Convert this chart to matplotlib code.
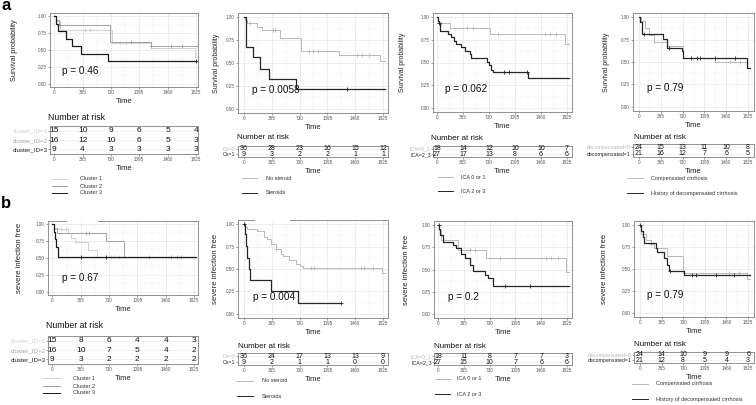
import matplotlib.pyplot as plt
from matplotlib.lines import Line2D
from matplotlib.patches import Rectangle
import numpy as np

plt.rcParams['font.family'] = ['Liberation Sans', 'DejaVu Sans']

####################################################################################################
# data (step times in days, survival after each step, censor times)
####################################################################################################
risk_times = [0, 365, 730, 1095, 1460, 1825]

# a1 - clusters, survival
a1_c1_t = [20, 80, 745, 1250, 1810]
a1_c1_s = [0.93, 0.80, 0.60, 0.53, 0.40]
a1_c1_cens = [395, 460, 845, 930]
a1_c2_t = [25, 55, 720, 1250]
a1_c2_s = [0.94, 0.87, 0.62, 0.56]
a1_c2_cens = [73, 995, 1250, 1500, 1640]
a1_c3_t = [20, 43, 146, 231, 342, 693]
a1_c3_s = [0.889, 0.778, 0.667, 0.556, 0.444, 0.333]
a1_c3_cens = [1825]

# a2 - steroids, survival
a2_g0_t = [15, 40, 167, 232, 474, 750, 1241, 1790]
a2_g0_s = [0.97, 0.94, 0.89, 0.86, 0.77, 0.63, 0.59, 0.52]
a2_g0_cens = [80, 386, 408, 847, 912, 978, 1483, 1549, 1636]
a2_g1_t = [20, 30, 123, 210, 330, 680]
a2_g1_s = [0.78, 0.67, 0.56, 0.44, 0.33, 0.22]
a2_g1_cens = [1350]

# a3 - ICA, survival
a3_g0_t = [14, 178, 740, 1800]
a3_g0_s = [0.94, 0.88, 0.81, 0.70]
a3_g0_cens = [61, 421, 505, 856, 1512, 1582, 1675]
a3_g1_t = [14, 28, 47, 154, 201, 234, 262, 342, 388, 459, 480, 702, 725, 763, 786, 1278]
a3_g1_s = [0.96, 0.93, 0.85, 0.81, 0.78, 0.74, 0.70, 0.67, 0.63, 0.59, 0.55, 0.51, 0.47, 0.42, 0.39, 0.33]
a3_g1_cens = [30, 935, 1010, 1265]

# a4 - decompensation, survival
a4_g0_t = [40, 100, 160, 250, 470, 735, 1270, 1800]
a4_g0_s = [0.96, 0.88, 0.80, 0.72, 0.68, 0.55, 0.50, 0.43]
a4_g0_cens = [1519, 1686]
a4_g1_t = [15, 45, 400, 470, 720, 740, 1800]
a4_g1_s = [0.95, 0.81, 0.76, 0.66, 0.62, 0.55, 0.43]
a4_g1_cens = [83, 506, 879, 963, 1018, 1269, 1602]

# b1 - clusters, severe infection
b1_c1_t = [15, 200, 240, 290, 460, 570]
b1_c1_s = [0.93, 0.87, 0.80, 0.73, 0.62, 0.52]
b1_c1_cens = [105, 170, 750, 800, 860]
b1_c2_t = [20, 60, 690, 920]
b1_c2_s = [0.94, 0.87, 0.75, 0.52]
b1_c2_cens = [430, 470, 1250, 1530, 1600, 1660]
b1_c3_t = [15, 30, 45, 75]
b1_c3_s = [0.889, 0.778, 0.667, 0.52]
b1_c3_cens = [370, 690]

# b2 - steroids, severe infection
b2_g0_t = [13, 36, 170, 260, 305, 349, 416, 484, 506, 596, 685, 730, 775, 1815]
b2_g0_s = [0.97, 0.94, 0.92, 0.86, 0.83, 0.78, 0.72, 0.67, 0.64, 0.60, 0.56, 0.53, 0.51, 0.46]
b2_g0_cens = [416, 880, 925, 1540, 1580, 1690]
b2_g1_t = [15, 30, 45, 60, 80, 350, 707]
b2_g1_s = [0.89, 0.76, 0.62, 0.50, 0.38, 0.25, 0.125]
b2_g1_cens = [5, 1276]

# b3 - ICA, severe infection
b3_g0_t = [14, 47, 283, 683, 1810]
b3_g0_s = [0.94, 0.83, 0.72, 0.63, 0.47]
b3_g0_cens = [447, 518, 871, 1531, 1592, 1696]
b3_g1_t = [14, 33, 66, 212, 259, 330, 386, 447, 494, 660, 706, 777]
b3_g1_s = [0.96, 0.89, 0.81, 0.78, 0.74, 0.67, 0.63, 0.55, 0.48, 0.44, 0.40, 0.32]
b3_g1_cens = [10, 942, 1295]

# b4 - decompensation, severe infection
b4_g0_t = [20, 100, 184, 240, 460, 720, 1805]
b4_g0_s = [0.90, 0.83, 0.78, 0.74, 0.65, 0.45, 0.39]
b4_g0_cens = [190, 1500, 1670]
b4_g1_t = [10, 45, 72, 267, 295, 407, 460, 490, 742]
b4_g1_s = [0.93, 0.86, 0.80, 0.74, 0.69, 0.62, 0.55, 0.48, 0.43]
b4_g1_cens = [5, 510, 885, 952, 1278, 1586]

# last follow-up of each curve
end_default = 1850
a1_c3_end = 1825
b2_g1_end = 1276

# numbers at risk
a1_risk = [[15, 10, 9, 6, 5, 4], [16, 12, 10, 6, 5, 3], [9, 4, 3, 3, 3, 3]]
a2_risk = [[36, 28, 23, 16, 15, 12], [9, 3, 2, 2, 1, 1]]
a3_risk = [[18, 14, 12, 10, 10, 7], [27, 17, 13, 8, 6, 6]]
a4_risk = [[24, 15, 13, 11, 10, 8], [21, 16, 12, 7, 6, 5]]
b1_risk = [[15, 8, 6, 4, 4, 3], [16, 10, 7, 5, 4, 2], [9, 3, 2, 2, 2, 2]]
b2_risk = [[36, 24, 17, 13, 13, 9], [9, 2, 1, 1, 0, 0]]
b3_risk = [[18, 11, 8, 7, 7, 3], [27, 15, 10, 7, 6, 6]]
b4_risk = [[24, 14, 10, 9, 9, 6], [21, 12, 8, 5, 4, 3]]

cluster_rows = ['cluster_ID=1', 'cluster_ID=2', 'cluster_ID=3']
steroid_rows = ['Cs=0', 'Cs=1']
ica_rows = ['ICA=0_1', 'ICA=2_3']
decomp_rows = ['decompensated=0', 'decompensated=1']

cluster_legend = ['Cluster 1', 'Cluster 2', 'Cluster 3']
steroid_legend = ['No steroid', 'Steroids']
ica_legend = ['ICA 0 or 1', 'ICA 2 or 3']
decomp_legend = ['Compensated cirrhosis', 'History of decompensated cirrhosis']

pvals = ['p = 0.46', 'p = 0.0058', 'p = 0.062', 'p = 0.79',
         'p = 0.67', 'p = 0.004', 'p = 0.2', 'p = 0.79']

####################################################################################################
# figure and helpers (all boxes in pixels from the top-left corner)
####################################################################################################
W, H = 756, 405
fig = plt.figure(figsize=(W / 100, H / 100), dpi=100)

three_cols = ['#d0d0d0', '#a3a3a3', '#1a1a1a']
two_cols = ['#b8b8b8', '#262626']
grid_major = '#e6e6e6'
grid_minor = '#f3f3f3'
frame_col = '#808080'
tick_col = '#555555'


def px_axes(box):
    x0, y0, x1, y1 = box
    return fig.add_axes([x0 / W, 1 - y1 / H, (x1 - x0) / W, (y1 - y0) / H])


def fig_text(x, y, s, **kw):
    fig.text(x / W, 1 - y / H, s, **kw)


def style_frame(ax):
    for sp in ax.spines.values():
        sp.set_color(frame_col)
        sp.set_linewidth(0.6)
    ax.tick_params(labelsize=3.3, colors=tick_col, length=1.5, width=0.4, pad=1)


def km_plot(box, curves, xlim, ylabel, ylab_x, ylab_fs, pval, pxy):
    ax = px_axes(box)
    for t, s, cens, end, col, lw in curves:
        tt = [0] + t + [end]
        ss = [1.0] + s + [s[-1]]
        ax.step(tt, ss, where='post', color=col, lw=lw)
        idx = np.searchsorted(t, cens, side='right')
        cy = np.r_[1.0, s][idx]
        ax.plot(cens, cy, '+', color=col, ms=3.5, mew=0.6)
    ax.set_xlim(*xlim)
    ax.set_ylim(-0.045, 1.045)
    ax.set_xticks(risk_times)
    ax.set_xticks([182.5, 547.5, 912.5, 1277.5, 1642.5], minor=True)
    ax.set_yticks([0, 0.25, 0.5, 0.75, 1.0])
    ax.set_yticklabels(['0.00', '0.25', '0.50', '0.75', '1.00'])
    ax.set_yticks([0.125, 0.375, 0.625, 0.875], minor=True)
    ax.grid(which='major', color=grid_major, lw=0.5)
    ax.grid(which='minor', color=grid_minor, lw=0.35)
    ax.tick_params(which='minor', length=0)
    ax.set_axisbelow(True)
    style_frame(ax)
    ax.set_xlabel('Time', fontsize=5.5, labelpad=1.5, color='#222222')
    fig_text(ylab_x, (box[1] + box[3]) / 2, ylabel, rotation=90, ha='center', va='center',
             fontsize=ylab_fs, color='#222222')
    fig_text(pxy[0], pxy[1], pval, ha='left', va='center', fontsize=7.2, color='#111111')
    return ax


def risk_table(box, rows, names, cols, xlim, title_xy, num_fs, name_fs, title_fs):
    ax = px_axes(box)
    n = len(rows)
    for i, r in enumerate(rows):
        for x, v in zip(risk_times, r):
            ax.text(x, i, str(v), ha='center', va='center', fontsize=num_fs, color='#111111')
    ax.set_xlim(*xlim)
    ax.set_ylim(n - 0.5, -0.5)
    ax.set_xticks(risk_times)
    ax.set_yticks(range(n))
    ax.set_yticklabels(names)
    ax.grid(axis='y', color=grid_major, lw=0.4)
    style_frame(ax)
    ax.tick_params(axis='y', labelsize=name_fs, pad=0.5, length=1.2)
    for lab, c in zip(ax.get_yticklabels(), cols):
        lab.set_color(c)
    ax.set_xlabel('Time', fontsize=5.5, labelpad=1.5, color='#222222')
    fig_text(title_xy[0], title_xy[1], 'Number at risk', ha='left', va='center',
             fontsize=title_fs, color='#111111')
    return ax


def legend_block(x0, x1, ys, xt, labels, cols):
    for y, lab, c in zip(ys, labels, cols):
        fig.add_artist(Line2D([x0 / W, x1 / W], [1 - y / H, 1 - y / H], color=c, lw=0.7))
        fig_text(xt, y, lab, ha='left', va='center', fontsize=4, color='#333333')


####################################################################################################
# layout per panel
####################################################################################################
E = end_default
panels = [
    dict(box=(50, 13, 198, 87), xlim=(-55, 1852), ylab='Survival probability', ylx=14, ylfs=5.3,
         pxy=(62, 71), tbox=(50, 126, 198, 154), txy=(48, 118), leg=(52, 67, [179, 186, 193], 80),
         curves=[(a1_c1_t, a1_c1_s, a1_c1_cens, E, three_cols[0], 0.7),
                 (a1_c2_t, a1_c2_s, a1_c2_cens, E, three_cols[1], 0.7),
                 (a1_c3_t, a1_c3_s, a1_c3_cens, a1_c3_end, three_cols[2], 0.9)],
         risk=a1_risk, names=cluster_rows, legend=cluster_legend, cols=three_cols, big=True),
    dict(box=(238, 13, 388, 113), xlim=(-79, 1891), ylab='Survival probability', ylx=217, ylfs=5,
         pxy=(252, 90), tbox=(238, 146, 388, 157), txy=(237, 137), leg=(242, 257, [178, 193], 266),
         curves=[(a2_g0_t, a2_g0_s, a2_g0_cens, E, two_cols[0], 0.7),
                 (a2_g1_t, a2_g1_s, a2_g1_cens, E, two_cols[1], 0.9)],
         risk=a2_risk, names=steroid_rows, legend=steroid_legend, cols=two_cols, big=False),
    dict(box=(433, 13, 572, 112), xlim=(-56, 1895), ylab='Survival probability', ylx=403, ylfs=5,
         pxy=(445, 89), tbox=(433, 146, 572, 157), txy=(431, 138), leg=(438, 453, [177, 191], 461),
         curves=[(a3_g0_t, a3_g0_s, a3_g0_cens, E, two_cols[0], 0.7),
                 (a3_g1_t, a3_g1_s, a3_g1_cens, E, two_cols[1], 0.9)],
         risk=a3_risk, names=ica_rows, legend=ica_legend, cols=two_cols, big=False),
    dict(box=(633, 13, 754, 111), xlim=(-100, 1925), ylab='Survival probability', ylx=607, ylfs=5,
         pxy=(647, 88), tbox=(633, 144, 754, 157), txy=(634, 137), leg=(627, 643, [178, 193], 651),
         curves=[(a4_g0_t, a4_g0_s, a4_g0_cens, E, two_cols[0], 0.7),
                 (a4_g1_t, a4_g1_s, a4_g1_cens, E, two_cols[1], 0.9)],
         risk=a4_risk, names=decomp_rows, legend=decomp_legend, cols=two_cols, big=False),
    dict(box=(48, 221, 198, 295), xlim=(-57, 1877), ylab='severe infection free', ylx=20, ylfs=5.6,
         pxy=(62, 278), tbox=(48, 336, 198, 364), txy=(46, 325), leg=(43, 60, [378, 386, 393], 73),
         curves=[(b1_c1_t, b1_c1_s, b1_c1_cens, E, three_cols[0], 0.7),
                 (b1_c2_t, b1_c2_s, b1_c2_cens, E, three_cols[1], 0.7),
                 (b1_c3_t, b1_c3_s, b1_c3_cens, E, three_cols[2], 0.9)],
         risk=b1_risk, names=cluster_rows, legend=cluster_legend, cols=three_cols, big=True),
    dict(box=(238, 220, 388, 318), xlim=(-79, 1891), ylab='severe infection free', ylx=215, ylfs=5.6,
         pxy=(253, 297), tbox=(238, 353, 388, 365), txy=(238, 346), leg=(237, 253, [381, 396], 262),
         curves=[(b2_g0_t, b2_g0_s, b2_g0_cens, E, two_cols[0], 0.7),
                 (b2_g1_t, b2_g1_s, b2_g1_cens, b2_g1_end, two_cols[1], 0.9)],
         risk=b2_risk, names=steroid_rows, legend=steroid_legend, cols=two_cols, big=False),
    dict(box=(434, 221, 572, 318), xlim=(-56, 1895), ylab='severe infection free', ylx=407, ylfs=5.6,
         pxy=(448, 297), tbox=(434, 353, 572, 365), txy=(434, 346), leg=(435, 450, [379, 394], 457),
         curves=[(b3_g0_t, b3_g0_s, b3_g0_cens, E, two_cols[0], 0.7),
                 (b3_g1_t, b3_g1_s, b3_g1_cens, E, two_cols[1], 0.9)],
         risk=b3_risk, names=ica_rows, legend=ica_legend, cols=two_cols, big=False),
    dict(box=(634, 221, 754, 317), xlim=(-100, 1925), ylab='severe infection free', ylx=605, ylfs=5.6,
         pxy=(647, 295), tbox=(634, 352, 754, 363), txy=(634, 344), leg=(632, 648, [384, 399], 656),
         curves=[(b4_g0_t, b4_g0_s, b4_g0_cens, E, two_cols[0], 0.7),
                 (b4_g1_t, b4_g1_s, b4_g1_cens, E, two_cols[1], 0.9)],
         risk=b4_risk, names=decomp_rows, legend=decomp_legend, cols=two_cols, big=False),
]

for k, p in enumerate(panels):
    km_plot(p['box'], p['curves'], p['xlim'], p['ylab'], p['ylx'], p['ylfs'], pvals[k], p['pxy'])
    name_cols = p['cols'] if p['big'] else [p['cols'][0], '#222222']
    risk_table(p['tbox'], p['risk'], p['names'], name_cols, p['xlim'], p['txy'],
               6 if p['big'] else 5, 4.5 if p['big'] else 3.8, 6.3 if p['big'] else 5.8)
    x0, x1, ys, xt = p['leg']
    legend_block(x0, x1, ys, xt, p['legend'], p['cols'])

# white gaps in the top frame of two lower panels
for gx0, gx1 in [(67, 98), (255, 290)]:
    fig.add_artist(Rectangle((gx0 / W, 1 - 222 / H), (gx1 - gx0) / W, 4 / H,
                             facecolor='white', edgecolor='none', zorder=10))

fig_text(1, 6, 'a', fontsize=12, fontweight='bold', ha='left', va='center')
fig_text(1, 203, 'b', fontsize=12, fontweight='bold', ha='left', va='center')

fig.savefig('out.png', dpi=100)
plt.close()
